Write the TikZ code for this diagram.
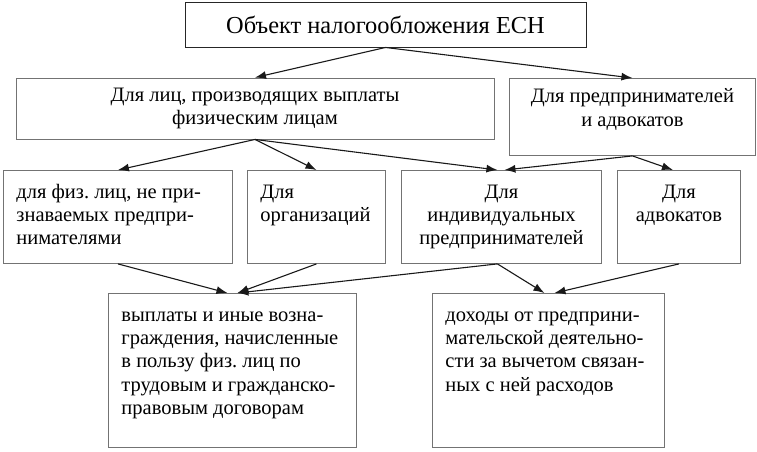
\documentclass[tikz,border=0pt]{standalone}
\usepackage{fontspec}
\setmainfont{Liberation Serif}
\usetikzlibrary{arrows.meta, positioning}
\frenchspacing

\tikzset{
  frame/.style={draw=black!55, line width=0.9pt, inner sep=0pt, align=center,
    font=\fontsize{20.5}{23.3}\selectfont},
  cellbox/.style={draw=black!55, line width=0.9pt, inner xsep=13pt, inner ysep=0pt,
    anchor=north west, font=\fontsize{20.5}{23.3}\selectfont},
  arr/.style={-{Latex[length=11pt,width=8pt]}, line width=1.1pt, black!90},
}
% [top pad] width, height, alignment, text
\newcommand{\boxtxt}[5][11.5]{\parbox[c][#3pt][t]{#2pt}{#4\vspace*{#1pt}\strut #5}}

\begin{document}
\begin{tikzpicture}[x=1pt,y=-1pt]
\useasboundingbox (0,0) rectangle (757,451);
% top level
\node[frame, draw=black!85, minimum width=401pt, minimum height=45pt,
  font=\fontsize{24.4}{28}\selectfont] (obj) at (385.5,24.5) {Объект налогообложения ЕСН};
% second level
\node[frame, minimum width=478pt, minimum height=61pt] (lica) at (255,108.5) {Для лиц, производящих выплаты\\физическим лицам};
\node[cellbox] (pred) at (509,78) {\boxtxt[8]{220}{77}{\centering}{Для предпринимателей\\и адвокатов}};
% third level
\node[cellbox] (fiz) at (3,170) {\boxtxt{203}{93}{\raggedright}{для физ. лиц, не при-\\знаваемых предпри-\\нимателями}};
\node[cellbox] (org) at (247,170) {\boxtxt{112}{93}{\raggedright}{Для\\организаций}};
\node[cellbox] (ind) at (401,170) {\boxtxt{174}{93}{\centering}{Для\\индивидуальных\\предпринимателей}};
\node[cellbox] (adv) at (617,170) {\boxtxt{97}{93}{\centering}{Для\\адвокатов}};
% bottom level
\node[cellbox] (vypl) at (108,293) {\boxtxt{222}{154}{\raggedright}{выплаты и иные возна-\\граждения, начисленные\\в пользу физ. лиц по\\трудовым и гражданско-\\правовым договорам}};
\node[cellbox] (doh) at (432,293) {\boxtxt{206}{154}{\raggedright}{доходы от предприни-\\мательской деятельно-\\сти за вычетом связан-\\ных с ней расходов}};

\draw[arr] (obj.south) -- (lica.north);
\draw[arr] (obj.south) -- (pred.north);
\draw[arr] (lica.south) -- (fiz.north);
\draw[arr] (lica.south) -- (org.north);
\draw[arr] (lica.south) -- ([xshift=-4pt]ind.north);
\draw[arr] (pred.south) -- ([xshift=3pt]ind.north);
\draw[arr] (pred.south) -- ([xshift=-6pt]adv.north);
\draw[arr] (fiz.south) -- ([xshift=-5pt]vypl.north);
\draw[arr] (org.south) -- ([xshift=5pt]vypl.north);
\draw[arr] ([xshift=-4pt]ind.south) -- ([xshift=5pt]vypl.north);
\draw[arr] ([xshift=-4pt]ind.south) -- ([xshift=-4pt]doh.north);
\draw[arr] (adv.south) -- ([xshift=6pt]doh.north);
\end{tikzpicture}
\end{document}
